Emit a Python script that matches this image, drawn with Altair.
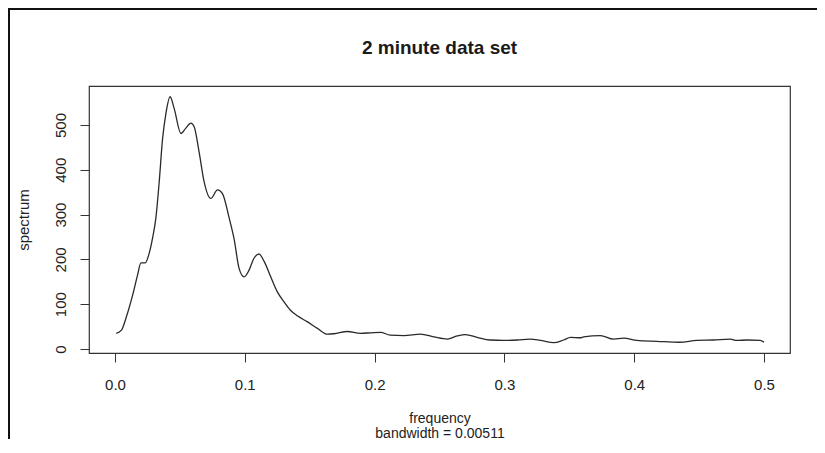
import altair as alt
import pandas as pd

freq = [0.001, 0.005, 0.0085, 0.0136, 0.0174, 0.020, 0.0233, 0.0264, 0.029, 0.0315,
        0.034, 0.0367, 0.0392, 0.0425, 0.0456, 0.0508, 0.0546, 0.0585, 0.061, 0.0648,
        0.0687, 0.0738, 0.079, 0.0828, 0.088, 0.0918, 0.0956, 0.0995, 0.1033, 0.107,
        0.111, 0.115, 0.12, 0.125, 0.130, 0.135, 0.1405, 0.148, 0.156, 0.1636,
        0.1687, 0.179, 0.189, 0.197, 0.2046, 0.212, 0.2226, 0.2354, 0.2456, 0.256,
        0.2636, 0.27, 0.279, 0.289, 0.2995, 0.31, 0.32, 0.3277, 0.338, 0.3456,
        0.351, 0.3585, 0.361, 0.374, 0.384, 0.392, 0.402, 0.4175, 0.435, 0.448,
        0.461, 0.474, 0.479, 0.4867, 0.497, 0.5]
spectrum = [35, 42, 69, 120, 165, 192, 192, 214, 248, 292,
            370, 470, 525, 563, 537, 481, 493, 504, 496, 440,
            373, 336, 355, 347, 292, 245, 180, 161, 176, 202,
            212, 195, 161, 128, 106, 87, 74, 61, 46, 33,
            34, 39, 35, 36, 37, 31, 30, 33, 27, 22,
            29, 32, 26, 20, 19, 20, 22, 19, 14, 20,
            26, 25, 27, 30, 22, 24, 19, 17, 15, 19,
            20, 22, 19, 20, 19, 15]

x_ticks = [0.0, 0.1, 0.2, 0.3, 0.4, 0.5]
y_ticks = [0, 100, 200, 300, 400, 500]

title_text = "2 minute data set"
x_title = ["frequency", "bandwidth = 0.00511"]
y_title = "spectrum"

df = pd.DataFrame({"frequency": freq, "spectrum": spectrum})
title_df = pd.DataFrame({"t": [title_text]})

FONT = "Liberation Sans, Arial, Helvetica, sans-serif"
W, H = 701, 267
PAD_L, PAD_T, PAD_R, PAD_B = 81, 78, 27, 86

line = alt.Chart(df).mark_line(color="#2a2a2a", strokeWidth=1.3, interpolate="monotone").encode(
    x=alt.X("frequency:Q",
            scale=alt.Scale(domain=[-0.02, 0.52], nice=False, zero=False),
            axis=alt.Axis(values=x_ticks, format=".1f", title=x_title,
                          grid=False, domain=False, tickSize=9, tickColor="#333",
                          labelFontSize=15, labelColor="#222", labelFont=FONT,
                          labelPadding=15, labelFlush=False,
                          titleFont=FONT, titleFontSize=14, titleFontWeight="normal",
                          titleColor="#222", titleLineHeight=15,
                          titleBaseline="alphabetic", titleY=69, titleX=W / 2,
                          titleAnchor="middle")),
    y=alt.Y("spectrum:Q",
            scale=alt.Scale(domain=[-9, 587], nice=False, zero=False),
            axis=alt.Axis(values=y_ticks, title=y_title,
                          grid=False, domain=False, tickSize=9, tickColor="#333",
                          labelFontSize=15, labelColor="#222", labelFont=FONT,
                          labelAngle=270, labelAlign="center", labelBaseline="bottom",
                          labelPadding=12, labelFlush=False,
                          titleFont=FONT, titleFontSize=15, titleFontWeight="normal",
                          titleColor="#222", titleAngle=270, titleAlign="center",
                          titleBaseline="middle", titleX=-66, titleY=H / 2)),
)

title = alt.Chart(title_df).mark_text(
    font=FONT, fontSize=19, fontWeight="bold", color="#1a1a1a",
    align="center", baseline="alphabetic"
).encode(text="t:N", x=alt.value(W / 2), y=alt.value(-32))

frame_left = alt.Chart(title_df).mark_rule(color="#111", strokeWidth=2).encode(
    x=alt.value(-80), x2=alt.value(-80), y=alt.value(-PAD_T), y2=alt.value(H + PAD_B))
frame_top = alt.Chart(title_df).mark_rule(color="#111", strokeWidth=2).encode(
    x=alt.value(-PAD_L), x2=alt.value(W + PAD_R), y=alt.value(-77), y2=alt.value(-77))

chart = alt.layer(frame_left, frame_top, line, title).properties(
    width=W, height=H,
    autosize=alt.AutoSizeParams(type="none"),
    padding={"left": PAD_L, "top": PAD_T, "right": PAD_R, "bottom": PAD_B},
    background="white",
).configure_view(stroke="#333", strokeWidth=1.2)

chart.save("out.html", embed_options={"renderer": "svg", "actions": False})
